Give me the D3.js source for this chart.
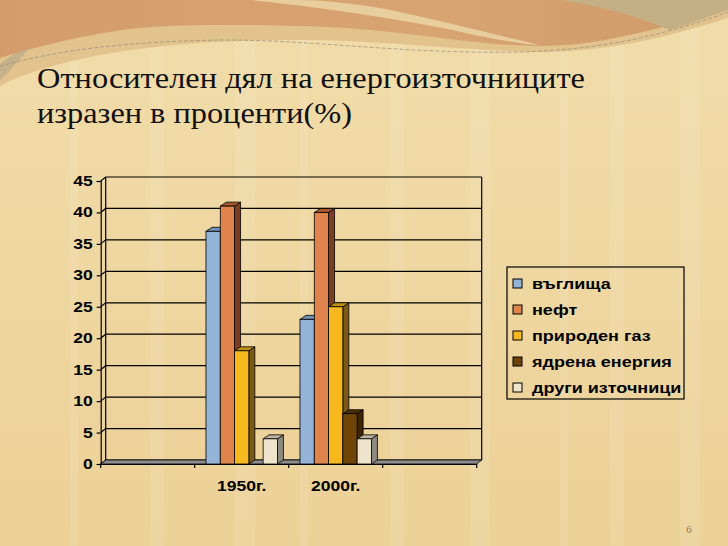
<!DOCTYPE html>
<html>
<head>
<meta charset="utf-8">
<script src="https://cdn.jsdelivr.net/npm/d3@7"></script>
<style>
  body { margin: 0; background: #eed6a0; }
  svg { display: block; }
</style>
</head>
<body>
<svg id="slide" width="728" height="546"></svg>
<script>
// data
const categories = ["", "1950г.", "2000г.", ""];
const seriesNames = ["въглища", "нефт", "природен газ", "ядрена енергия", "други източници"];
const coal    = [0, 37, 23, 0];
const oil     = [0, 41, 40, 0];
const gas     = [0, 18, 25, 0];
const nuclear = [0, 0, 8, 0];
const other   = [0, 4, 4, 0];
const yTicks = [0, 5, 10, 15, 20, 25, 30, 35, 40, 45];

const seriesValues = [coal, oil, gas, nuclear, other];
const fronts = ["#95b3d7", "#e0844e", "#f6b81c", "#6e4408", "#eee4cc"];
const sides  = ["#5a7290", "#7c3e22", "#7a5a14", "#3c2404", "#8c8a80"];
const tops   = ["#7090b4", "#a4582e", "#c0900e", "#4c2e06", "#bdb4a0"];

const width = 728, height = 546;
const svg = d3.select("#slide");
const chartFont = "bold 14px 'Liberation Sans', Arial, sans-serif";

// the chart picture is stretched sideways on the slide, so widen its texts
function stretch(sel, f) {
	sel.each(function() {
		let len = this.getComputedTextLength();
		if (len > 0) d3.select(this).attr("textLength", len * f).attr("lengthAdjust", "spacingAndGlyphs");
	});
}

// background
let defs = svg.append("defs");
let bg = defs.append("linearGradient").attr("id", "bg").attr("x1", 0).attr("y1", 0).attr("x2", 0).attr("y2", 1);
bg.append("stop").attr("offset", "0%").attr("stop-color", "#f1dcaa");
bg.append("stop").attr("offset", "100%").attr("stop-color", "#ecd197");
let band = defs.append("linearGradient").attr("id", "band").attr("x1", 0).attr("y1", 0).attr("x2", 1).attr("y2", 0);
band.append("stop").attr("offset", "0%").attr("stop-color", "#d49c6c");
band.append("stop").attr("offset", "60%").attr("stop-color", "#d8a472");
band.append("stop").attr("offset", "100%").attr("stop-color", "#d09a6a");

svg.append("rect").attr("width", width).attr("height", height).attr("fill", "url(#bg)");

// faint vertical stripes of the paper texture
svg.append("g").selectAll("rect")
	.data([70, 150, 235, 300, 390, 470, 560, 610, 680])
	.enter().append("rect")
	.attr("x", d => d).attr("y", 0)
	.attr("width", (d, i) => 8 + (i % 3) * 6).attr("height", height)
	.attr("fill", "#fff").attr("opacity", 0.09);

// top swoosh
let deco = svg.append("g");
deco.append("path")
	.attr("d", "M0,0 H728 V18 C660,40 600,52 540,52 C450,50 380,40 300,40 C200,40 120,48 60,64 C30,72 10,80 0,86 Z")
	.attr("fill", "#e2c38e");
deco.append("path")
	.attr("d", "M0,0 H728 V10 C650,30 600,46 540,46 C470,46 400,28 300,26 C220,24 150,24 110,32 C60,40 20,52 0,58 Z")
	.attr("fill", "url(#band)");
deco.append("path")
	.attr("d", "M250,0 C330,8 420,22 470,34 C500,40 520,44 540,45 C500,36 440,20 380,8 C350,3 320,0 300,0 Z")
	.attr("fill", "#ecd6a4").attr("opacity", 0.85);
deco.append("path")
	.attr("d", "M560,0 H728 V10 C700,20 690,24 670,30 C630,14 600,6 560,0 Z")
	.attr("fill", "#c4b084");
deco.append("path")
	.attr("d", "M0,64 C10,56 16,52 30,48 C16,62 8,74 0,80 Z")
	.attr("fill", "#bfae8a").attr("opacity", 0.8);
deco.append("path")
	.attr("d", "M0,66 C60,50 120,42 220,40 C320,40 400,54 520,52 C610,50 680,30 728,12")
	.attr("fill", "none").attr("stroke", "#8c8478").attr("stroke-width", 0.8)
	.attr("stroke-dasharray", "4,2").attr("opacity", 0.8);

// title
let title = svg.append("g")
	.style("font-family", "'Liberation Serif', 'Times New Roman', serif")
	.style("font-size", "29px")
	.attr("fill", "#111");
title.append("text").attr("x", 37).attr("y", 88)
	.attr("textLength", 548).attr("lengthAdjust", "spacingAndGlyphs")
	.text("Относителен дял на енергоизточниците");
title.append("text").attr("x", 37).attr("y", 123)
	.attr("textLength", 315).attr("lengthAdjust", "spacingAndGlyphs")
	.text("изразен в проценти(%)");

// chart geometry
const left = 100.7, right = 476.7, base = 464, topY = 181;
const wallDx = 5, wallDy = -4;   // depth of the back wall
const barDx = 6, barDy = -4;     // depth of a bar

let x = d3.scaleBand()
	.domain(d3.range(categories.length))
	.range([left, right]);

let xs = d3.scaleBand()
	.domain(d3.range(seriesNames.length))
	.range([0, x.bandwidth()])
	.paddingOuter(0.79);

let y = d3.scaleLinear()
	.domain([0, 45])
	.range([base, topY]);

let chart = svg.append("g");

// back wall gridlines and side-wall diagonals
chart.append("g").selectAll("path")
	.data(yTicks)
	.enter().append("path")
	.attr("d", d => "M" + left + "," + y(d) + " L" + (left + wallDx) + "," + (y(d) + wallDy) + " H" + (right + wallDx))
	.attr("fill", "none")
	.attr("stroke", "#000")
	.attr("stroke-width", 1.2);

chart.append("line")
	.attr("x1", left + wallDx).attr("x2", left + wallDx)
	.attr("y1", y(45) + wallDy).attr("y2", y(0) + wallDy)
	.attr("stroke", "#000").attr("stroke-width", 1.2);
chart.append("line")
	.attr("x1", right + wallDx).attr("x2", right + wallDx)
	.attr("y1", y(45) + wallDy).attr("y2", y(0) + wallDy)
	.attr("stroke", "#000").attr("stroke-width", 1.2);

// floor
chart.append("path")
	.attr("d", "M" + left + "," + base + " L" + (left + wallDx) + "," + (base + wallDy) +
		" H" + (right + wallDx) + " L" + right + "," + base + " Z")
	.attr("fill", "#8c8c8c")
	.attr("stroke", "#000")
	.attr("stroke-width", 0.8);

// bars
let bars = [];
categories.forEach(function(c, ci) {
	seriesValues.forEach(function(vals, si) {
		if (vals[ci] > 0) bars.push({ ci: ci, si: si, v: vals[ci] });
	});
});

let barG = chart.append("g").selectAll("g")
	.data(bars)
	.enter().append("g");

function bx(d) { return x(d.ci) + xs(d.si); }
let bw = xs.bandwidth();

barG.append("path")
	.attr("d", d => "M" + (bx(d) + bw) + "," + y(d.v) + " l" + barDx + "," + barDy +
		" V" + (y(0) + barDy) + " L" + (bx(d) + bw) + "," + y(0) + " Z")
	.attr("fill", d => sides[d.si])
	.attr("stroke", "#000").attr("stroke-width", 0.8).attr("stroke-linejoin", "round");
barG.append("path")
	.attr("d", d => "M" + bx(d) + "," + y(d.v) + " l" + barDx + "," + barDy +
		" h" + bw + " l" + (-barDx) + "," + (-barDy) + " Z")
	.attr("fill", d => tops[d.si])
	.attr("stroke", "#000").attr("stroke-width", 0.8).attr("stroke-linejoin", "round");
barG.append("rect")
	.attr("x", d => bx(d))
	.attr("y", d => y(d.v))
	.attr("width", bw)
	.attr("height", d => y(0) - y(d.v))
	.attr("fill", d => fronts[d.si])
	.attr("stroke", "#000").attr("stroke-width", 0.8);

// axes
let yAxis = chart.append("g")
	.attr("transform", "translate(" + left + ",0)")
	.call(d3.axisLeft(y).tickValues(yTicks).tickSize(4).tickPadding(4));
let xAxis = chart.append("g")
	.attr("transform", "translate(0," + base + ")")
	.call(d3.axisBottom(x).tickSize(0).tickPadding(17).tickFormat(i => categories[i]));

// category boundary ticks
chart.append("g").selectAll("line")
	.data(d3.range(categories.length + 1))
	.enter().append("line")
	.attr("x1", i => left + i * x.step()).attr("x2", i => left + i * x.step())
	.attr("y1", base).attr("y2", base + 4)
	.attr("stroke", "#000").attr("stroke-width", 1.2);

[yAxis, xAxis].forEach(function(a) {
	a.attr("font-size", null).attr("font-family", null);
	a.selectAll("path.domain").attr("stroke", "#000").attr("stroke-width", 1.2);
	a.selectAll(".tick line").attr("stroke", "#000").attr("stroke-width", 1.2);
	a.selectAll("text")
		.attr("fill", "#000")
		.style("font", chartFont);
	stretch(a.selectAll("text"), 1.25);
});

// legend
let legend = svg.append("g").attr("transform", "translate(507,267)");
legend.append("rect")
	.attr("width", 177).attr("height", 132)
	.attr("fill", "none").attr("stroke", "#000").attr("stroke-width", 1.2);
let items = legend.selectAll("g.item")
	.data(seriesNames)
	.enter().append("g")
	.attr("class", "item")
	.attr("transform", (d, i) => "translate(6," + (17 + i * 26) + ")");
items.append("rect")
	.attr("x", 0).attr("y", -5)
	.attr("width", 9).attr("height", 9)
	.attr("fill", (d, i) => fronts[i])
	.attr("stroke", "#000").attr("stroke-width", 1);
items.append("text")
	.attr("x", 19).attr("y", 5)
	.style("font", "bold 15px 'Liberation Sans', Arial, sans-serif")
	.attr("fill", "#000")
	.text(d => d);
stretch(items.selectAll("text"), 1.2);

// slide number
svg.append("text")
	.attr("x", 689).attr("y", 533)
	.style("text-anchor", "middle")
	.style("font", "11px 'Liberation Serif', serif")
	.attr("fill", "#8a7a60")
	.text("6");
</script>
</body>
</html>
